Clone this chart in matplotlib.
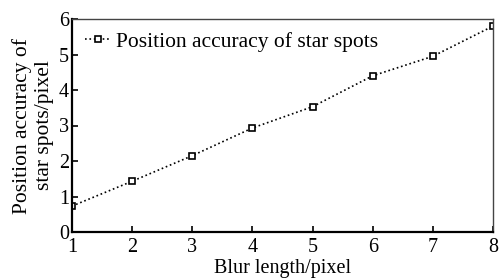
import matplotlib.pyplot as plt

blur_length = [1, 2, 3, 4, 5, 6, 7, 8]
accuracy = [0.73, 1.43, 2.15, 2.93, 3.53, 4.40, 4.95, 5.80]

plt.rcParams['font.family'] = ['Liberation Serif', 'DejaVu Serif']

fig = plt.figure(figsize=(4.99, 2.78), dpi=100)
ax = fig.add_axes([72 / 499, 1 - 232 / 278, 421 / 499, 213 / 278])

ax.plot(blur_length, accuracy, color='black', linestyle=':', linewidth=1.2,
        marker='s', markersize=5, markerfacecolor='white', markeredgecolor='black',
        markeredgewidth=1.2, label='Position accuracy of star spots')

ax.set_xlim(1, 8)
ax.set_ylim(0, 6)
ax.set_xticks(range(1, 9))
ax.set_yticks(range(0, 7))
ax.tick_params(direction='in', length=4, width=1.2, labelsize=14.5, pad=2)
ax.tick_params(axis='x', pad=4)

for s in ['left', 'bottom']:
    ax.spines[s].set_linewidth(1.6)
for s in ['top', 'right']:
    ax.spines[s].set_linewidth(1.0)
    ax.spines[s].set_color('#444444')

ax.set_xlabel('Blur length/pixel', fontsize=14.5, labelpad=2)
ax.set_ylabel('Position accuracy of\nstar spots/pixel', fontsize=15.5,
              labelpad=4, linespacing=1.15)

ax.legend(loc='upper left', frameon=False, fontsize=15.5, handlelength=1.2,
          handletextpad=0.25, borderaxespad=0.2)

fig.savefig('out.png', dpi=100)
